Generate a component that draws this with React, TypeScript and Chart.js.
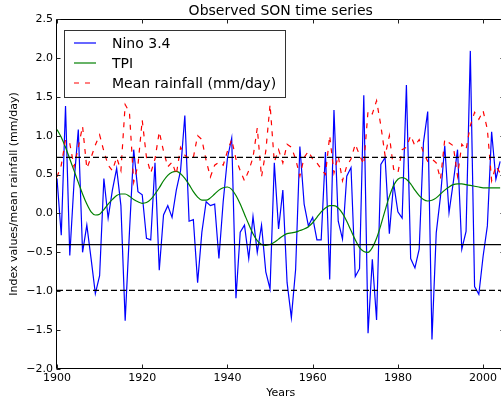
import React, { useEffect, useRef } from 'react';
import { Chart, registerables } from 'chart.js';

Chart.register(...registerables);

const startYear = 1900;
const xMin = 1900;
const xMax = 2004.2;

const nino34 = [
  0.45, -0.28, 1.38, -0.54, 0.40, 1.08, -0.50, -0.15, -0.58, -1.03,
  -0.80, 0.45, -0.06, 0.30, 0.58, 0.10, -1.38, -0.24, 0.82, 0.28,
  0.24, -0.32, -0.34, 0.65, -0.73, -0.02, 0.10, -0.05, 0.30, 0.55,
  1.26, -0.10, -0.08, -0.89, -0.24, 0.15, 0.10, 0.12, -0.58, 0.15,
  0.71, 0.97, -1.09, -0.24, -0.15, -0.58, -0.04, -0.50, -0.15, -0.75,
  -0.97, 0.65, -0.20, 0.30, -0.89, -1.34, -0.72, 0.86, 0.12, -0.16,
  -0.05, -0.34, -0.34, 0.79, -0.85, 1.33, -0.10, -0.33, 0.48, 0.59,
  -0.81, -0.71, 1.52, -1.54, -0.59, -1.37, 0.63, 0.72, -0.26, 0.39,
  0.02, -0.06, 1.65, -0.58, -0.70, -0.46, 0.91, 1.31, -1.62, -0.25,
  0.22, 0.87, 0.01, 0.40, 0.82, -0.46, -0.23, 2.09, -0.94, -1.04,
  -0.55, -0.16, 1.05, 0.44, 0.67,
];

const tpi = [
  1.08, 0.98, 0.85, 0.70, 0.55, 0.40, 0.25, 0.12, 0.02, -0.02,
  -0.01, 0.05, 0.12, 0.18, 0.23, 0.25, 0.25, 0.22, 0.18, 0.15,
  0.13, 0.14, 0.18, 0.25, 0.33, 0.42, 0.49, 0.53, 0.54, 0.51,
  0.45, 0.37, 0.28, 0.21, 0.17, 0.17, 0.20, 0.25, 0.30, 0.33,
  0.34, 0.31, 0.23, 0.12, -0.01, -0.14, -0.26, -0.35, -0.40, -0.41,
  -0.40, -0.37, -0.33, -0.29, -0.26, -0.25, -0.24, -0.22, -0.20, -0.17,
  -0.12, -0.05, 0.02, 0.07, 0.10, 0.10, 0.07, 0.00, -0.10, -0.22,
  -0.34, -0.44, -0.49, -0.50, -0.44, -0.32, -0.15, 0.04, 0.22, 0.36,
  0.44, 0.46, 0.44, 0.38, 0.30, 0.23, 0.18, 0.16, 0.17, 0.20,
  0.25, 0.30, 0.34, 0.37, 0.38, 0.38, 0.37, 0.36, 0.35, 0.34,
  0.33, 0.33, 0.33, 0.33, 0.33,
];

const rainfall = [
  0.47, 0.62, 0.95, 0.90, 0.60, 0.85, 1.12, 0.58, 0.72, 0.88,
  1.01, 0.80, 0.62, 0.55, 0.72, 0.55, 1.40, 1.30, 0.40, 0.62,
  1.20, 0.72, 0.52, 0.70, 1.05, 0.80, 0.60, 0.66, 0.50, 0.85,
  0.75, 0.70, 0.72, 1.00, 0.95, 0.68, 0.47, 0.62, 0.66, 0.62,
  0.80, 0.95, 0.70, 0.55, 0.42, 0.55, 0.72, 1.10, 0.47, 0.80,
  1.40, 0.66, 0.82, 0.65, 0.89, 0.85, 0.70, 0.48, 0.72, 0.80,
  0.70, 0.65, 0.57, 0.50, 1.00, 0.52, 0.74, 0.42, 0.61, 0.70,
  0.89, 0.75, 0.63, 1.32, 1.28, 1.45, 1.13, 0.74, 1.00, 0.57,
  0.52, 0.82, 0.85, 1.00, 0.87, 0.95, 0.78, 0.67, 0.70, 0.65,
  0.44, 0.95, 0.91, 0.87, 0.48, 0.89, 0.82, 1.13, 1.30, 1.21,
  1.32, 1.08, 0.42, 0.61, 0.52,
];

const upperDashed = 0.72;
const lowerSolid = -0.40;
const lowerDashed = -0.99;

const xTicks = [1900, 1920, 1940, 1960, 1980, 2000];
const yTicks = [-2.0, -1.5, -1.0, -0.5, 0.0, 0.5, 1.0, 1.5, 2.0, 2.5];

const titleText = 'Observed SON time series';
const xTitle = 'Years';
const yTitle = 'Index values/mean rainfall (mm/day)';
const legendLabels = ['Nino 3.4', 'TPI', 'Mean rainfall (mm/day)'];

const FONT = '"DejaVu Sans", sans-serif';

const toPoints = (arr: number[]) => arr.map((v, i) => ({ x: startYear + i, y: v }));
const hline = (v: number) => [
  { x: xMin, y: v },
  { x: xMax, y: v },
];

const decorPlugin = {
  id: 'decor',
  afterDraw(chart: any) {
    const ctx = chart.ctx;
    const a = chart.chartArea;
    const xs = chart.scales.x;
    const ys = chart.scales.y;
    ctx.save();
    // frame
    ctx.strokeStyle = '#000';
    ctx.lineWidth = 1;
    ctx.beginPath();
    const L = Math.round(a.left) - 0.5;
    const T = Math.round(a.top) + 0.5;
    const B = Math.round(a.bottom) - 0.5;
    ctx.moveTo(a.right + 5, T);
    ctx.lineTo(L, T);
    ctx.lineTo(L, B);
    ctx.lineTo(a.right + 5, B);
    ctx.stroke();
    // tick marks
    ctx.strokeStyle = '#222';
    ctx.beginPath();
    xTicks.forEach((t) => {
      const px = Math.round(xs.getPixelForValue(t)) + 0.5;
      ctx.moveTo(px, B);
      ctx.lineTo(px, B - 4);
      ctx.moveTo(px, T);
      ctx.lineTo(px, T + 4);
    });
    const rightSpine = xs.getPixelForValue(2005);
    yTicks.forEach((t) => {
      const py = Math.round(ys.getPixelForValue(t)) + 0.5;
      ctx.moveTo(L, py);
      ctx.lineTo(L + 4, py);
      ctx.moveTo(rightSpine - 4, py);
      ctx.lineTo(rightSpine, py);
    });
    ctx.stroke();

    // title
    ctx.fillStyle = '#000';
    ctx.textAlign = 'center';
    ctx.textBaseline = 'middle';
    ctx.font = `14px ${FONT}`;
    const cx = (a.left + rightSpine) / 2;
    ctx.fillText(titleText, cx, 11);
    // x title
    ctx.font = `11px ${FONT}`;
    ctx.fillText(xTitle, cx, 393);
    // y title
    ctx.save();
    ctx.translate(14, (a.top + a.bottom) / 2);
    ctx.rotate(-Math.PI / 2);
    ctx.fillText(yTitle, 0, 0);
    ctx.restore();

    // legend
    const bx = 64.5, by = 30.5, bw = 221, bh = 67;
    ctx.fillStyle = '#fff';
    ctx.fillRect(bx, by, bw, bh);
    ctx.strokeStyle = '#333';
    ctx.lineWidth = 1;
    ctx.strokeRect(bx, by, bw, bh);
    const colors = ['#0000ff', '#008000', '#ff0000'];
    const rows = [43, 63, 83];
    rows.forEach((ry, i) => {
      ctx.beginPath();
      ctx.strokeStyle = colors[i];
      ctx.lineWidth = 1.2;
      ctx.setLineDash(i === 2 ? [5, 6] : []);
      ctx.moveTo(74, ry);
      ctx.lineTo(96, ry);
      ctx.stroke();
      ctx.setLineDash([]);
      ctx.fillStyle = '#000';
      ctx.textAlign = 'left';
      ctx.textBaseline = 'middle';
      ctx.font = `14px ${FONT}`;
      ctx.fillText(legendLabels[i], 112, ry + 1);
    });
    ctx.restore();
  },
};

export default function App() {
  const ref = useRef<HTMLCanvasElement | null>(null);
  useEffect(() => {
    document.body.style.margin = '0';
    const canvas = ref.current;
    if (!canvas) return;
    const chart = new Chart(canvas, {
      type: 'line',
      data: {
        datasets: [
          {
            label: 'upper',
            data: hline(upperDashed),
            borderColor: '#000',
            borderWidth: 1.2,
            borderDash: [6, 3],
            pointRadius: 0,
            order: 0,
          },
          {
            label: 'solid',
            data: hline(lowerSolid),
            borderColor: '#000',
            borderWidth: 1.2,
            pointRadius: 0,
            order: 0,
          },
          {
            label: 'lower',
            data: hline(lowerDashed),
            borderColor: '#000',
            borderWidth: 1.2,
            borderDash: [6, 3],
            pointRadius: 0,
            order: 0,
          },
          {
            label: legendLabels[2],
            data: toPoints(rainfall),
            borderColor: '#ff0000',
            borderWidth: 1.2,
            borderDash: [5, 6],
            pointRadius: 0,
            tension: 0,
            order: 1,
          },
          {
            label: legendLabels[1],
            data: toPoints(tpi),
            borderColor: '#008000',
            borderWidth: 1.2,
            pointRadius: 0,
            cubicInterpolationMode: 'monotone',
            order: 2,
          },
          {
            label: legendLabels[0],
            data: toPoints(nino34),
            borderColor: '#0000ff',
            borderWidth: 1.2,
            pointRadius: 0,
            tension: 0,
            order: 3,
          },
        ],
      },
      options: {
        responsive: false,
        animation: false,
        events: [],
        layout: { padding: { top: 19, right: 0, bottom: 0, left: 0 } },
        plugins: {
          legend: { display: false },
          title: { display: false },
          tooltip: { enabled: false },
        },
        scales: {
          x: {
            type: 'linear',
            min: xMin,
            max: xMax,
            afterBuildTicks: (s: any) => {
              s.ticks = xTicks.map((v) => ({ value: v }));
            },
            afterFit: (s: any) => {
              s.height = 34;
            },
            grid: { display: false, drawTicks: false },
            border: { display: false },
            ticks: {
              font: { family: FONT, size: 11 },
              color: '#000',
              padding: 3,
              maxRotation: 0,
              autoSkip: false,
              callback: (v: any) => String(v),
            },
          },
          y: {
            type: 'linear',
            min: -2,
            max: 2.5,
            afterBuildTicks: (s: any) => {
              s.ticks = yTicks.map((v) => ({ value: v }));
            },
            afterFit: (s: any) => {
              s.width = 57;
            },
            grid: { display: false, drawTicks: false },
            border: { display: false },
            ticks: {
              font: { family: FONT, size: 11 },
              color: '#000',
              padding: 4,
              autoSkip: false,
              callback: (v: any) => Number(v).toFixed(1).replace('-', '\u2212'),
            },
          },
        },
      },
      plugins: [decorPlugin],
    } as any);
    return () => chart.destroy();
  }, []);
  return (
    <div style={{ position: 'absolute', left: 0, top: 0, width: 501, height: 403, overflow: 'hidden' }}>
      <canvas ref={ref} width={501} height={403} style={{ display: 'block' }} />
    </div>
  );
}
